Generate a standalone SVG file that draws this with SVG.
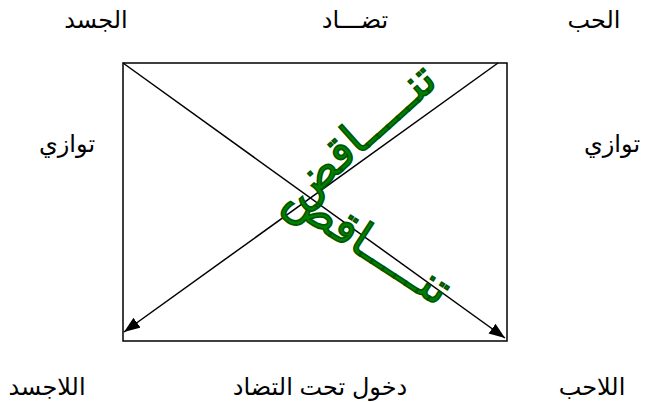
<svg xmlns="http://www.w3.org/2000/svg" width="648" height="402" viewBox="0 0 648 402">
<style>
.lbl{font-family:"Liberation Sans","DejaVu Sans",sans-serif;font-size:24px;fill:#000;text-anchor:middle}
.grn{font-family:"Liberation Sans","DejaVu Sans",sans-serif;font-size:46px;fill:#008000;stroke:#005500;stroke-width:1.6;text-anchor:middle}
.ln{stroke:#000;stroke-width:1.5;fill:none}
</style>
<defs>
<marker id="ah" viewBox="0 0 16 12" refX="16" refY="6" markerWidth="16" markerHeight="12" markerUnits="userSpaceOnUse" orient="auto">
<path d="M0,0 L16,6 L0,12 z" fill="#000"/>
</marker>
</defs>
<rect width="648" height="402" fill="#fff"/>
<g id="frame"><rect class="ln" x="123" y="63" width="384" height="278"/></g>
<g id="connectors">
<line class="ln" x1="123" y1="63" x2="505" y2="338" marker-end="url(#ah)"/>
<line class="ln" x1="498" y1="63" x2="124" y2="332" marker-end="url(#ah)"/>
</g>
<g id="n-jasad"><text class="lbl" x="96" y="28">الجسد</text></g>
<g id="n-tadad"><text class="lbl" x="355" y="28">تضـــاد</text></g>
<g id="n-hubb"><text class="lbl" x="594" y="28">الحب</text></g>
<g id="n-tawazi-l"><text class="lbl" x="67" y="152">توازي</text></g>
<g id="n-tawazi-r"><text class="lbl" x="612" y="152">توازي</text></g>
<g id="n-lajasad"><text class="lbl" x="47" y="395">اللاجسد</text></g>
<g id="n-dukhul"><text class="lbl" x="320" y="395">دخول تحت التضاد</text></g>
<g id="n-lahubb"><text class="lbl" x="592" y="395">اللاحب</text></g>
<g id="n-tanaqud1"><text class="grn" transform="translate(370,146) rotate(-42)" x="0" y="0">تنـــــاقض</text></g>
<g id="n-tanaqud2"><text class="grn" transform="translate(360,256) rotate(33)" x="0" y="0">تنـــــاقض</text></g>
</svg>
